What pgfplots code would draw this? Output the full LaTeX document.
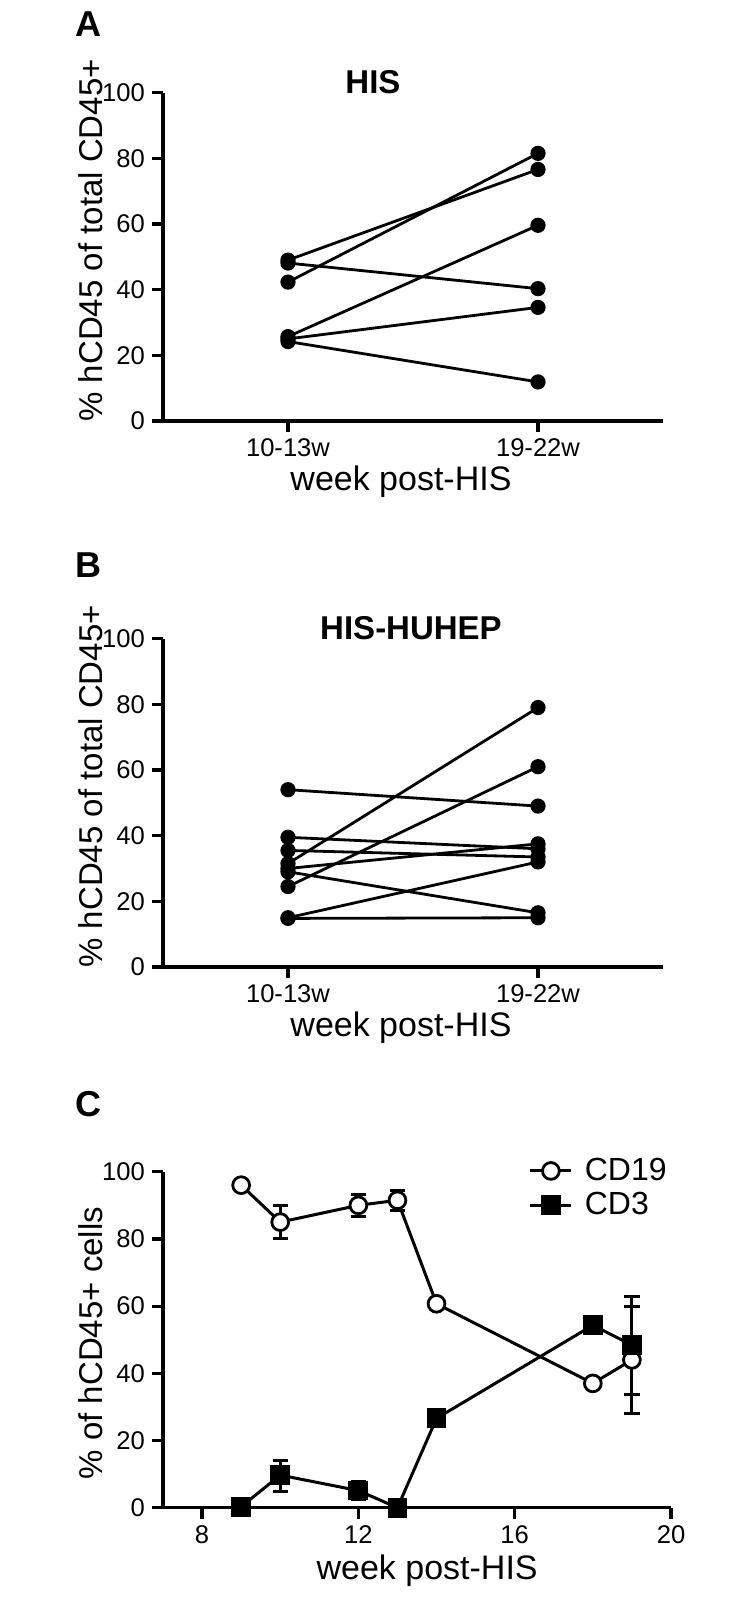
\documentclass[border=0pt]{standalone}
\usepackage{fontspec}
\setmainfont{Liberation Sans}
\usepackage{pgfplots}
\pgfplotsset{compat=1.18}

\pgfplotsset{
  panel/.style={
    scale only axis,
    axis x line*=bottom, axis y line*=left,
    axis line style={line width=1.6pt, -},
    every tick/.style={line width=1.6pt, black},
    tick align=outside,
    major tick length=5.5pt,
    ymin=0, ymax=100, ytick={0,20,...,100},
    tick label style={font=\fontsize{12.8}{15}\selectfont},
    /pgf/number format/assume math mode=true,
    xlabel style={font=\fontsize{17}{20}\selectfont},
    ylabel style={font=\fontsize{16.5}{19}\selectfont},
    clip=false,
  },
  pair/.style={
    panel,
    width=250pt, height=164.2pt,
    xmin=-0.5, xmax=1.5,
    xtick={0,1}, xticklabels={10-13w,19-22w},
    xlabel={week post-HIS},
    xlabel style={at={(rel axis cs:0.476,0)}, anchor=center, yshift=-30.5pt},
    ylabel={\% hCD45 of total CD45+},
    ylabel style={at={(rel axis cs:0,0.55)}, anchor=center, yshift=36pt},
  },
  pt/.style={black, solid, line width=1.4pt, mark=*, mark size=3.1pt, mark options={solid, fill=black}},
}

\begin{document}
\begin{tikzpicture}
\path[use as bounding box] (0pt,0pt) rectangle (377.5pt,-800pt);

\node[font=\fontsize{18}{22}\selectfont\bfseries] at (44pt,-12pt) {A};
\node[font=\fontsize{18}{22}\selectfont\bfseries] at (44pt,-282.5pt) {B};
\node[font=\fontsize{18}{22}\selectfont\bfseries] at (44pt,-552pt) {C};

% Panel A
\begin{axis}[pair, at={(81.5pt,-210.5pt)}, anchor=south west]
\addplot[pt] coordinates {(0,49.0) (1,76.6)};
\addplot[pt] coordinates {(0,42.3) (1,81.5)};
\addplot[pt] coordinates {(0,48.1) (1,40.3)};
\addplot[pt] coordinates {(0,25.7) (1,59.6)};
\addplot[pt] coordinates {(0,25.0) (1,34.6)};
\addplot[pt] coordinates {(0,24.2) (1,11.9)};
\node[font=\fontsize{16.5}{19}\selectfont\bfseries] at (rel axis cs:0.42,1.0) [yshift=5.4pt] {HIS};
\end{axis}

% Panel B
\begin{axis}[pair, at={(81.5pt,-483.5pt)}, anchor=south west]
\addplot[pt] coordinates {(0,54.0) (1,49.0)};
\addplot[pt] coordinates {(0,39.5) (1,36.0)};
\addplot[pt] coordinates {(0,35.5) (1,33.5)};
\addplot[pt] coordinates {(0,31.5) (1,79.0)};
\addplot[pt] coordinates {(0,30.0) (1,37.5)};
\addplot[pt] coordinates {(0,29.0) (1,16.5)};
\addplot[pt] coordinates {(0,24.5) (1,61.0)};
\addplot[pt] coordinates {(0,15.0) (1,32.0)};
\addplot[pt] coordinates {(0,14.8) (1,15.0)};
\node[font=\fontsize{16.5}{19}\selectfont\bfseries] at (rel axis cs:0.496,1.0) [yshift=5pt] {HIS-HUHEP};
\end{axis}

% Panel C
\begin{axis}[panel, at={(81.5pt,-753.85pt)}, anchor=south west, width=254pt, height=168pt,
  xmin=7, xmax=20, xtick={8,12,16,20},
  xlabel={week post-HIS},
  xlabel style={at={(rel axis cs:0.52,0)}, anchor=center, yshift=-31.5pt},
  ylabel={\% of hCD45+ cells},
  ylabel style={at={(rel axis cs:0,0.49)}, anchor=center, yshift=36pt},
  legend style={draw=none, fill=none, at={(rel axis cs:1.012,1.065)}, anchor=north east,
    font=\fontsize{16}{19}\selectfont, row sep=0.5pt,
    /tikz/every odd column/.append style={column sep=4pt}},
  legend cell align=left,
  legend image code/.code={\draw[mark repeat=2,mark phase=2] plot coordinates {(0pt,0pt) (10.25pt,0pt) (20.5pt,0pt)};},
]
\addplot[only marks, mark=none, forget plot, black,
  error bars/.cd, y dir=both, y explicit,
  error bar style={line width=1.5pt, black},
  error mark options={rotate=90, mark size=3.8pt, line width=1.5pt, black}]
  coordinates {(10,85) +- (0,4.9) (12,90) +- (0,3.3) (13,91.5) +- (0,3) (19,44) +- (0,16)};
\addplot[only marks, mark=none, forget plot, black,
  error bars/.cd, y dir=both, y explicit,
  error bar style={line width=1.5pt, black},
  error mark options={rotate=90, mark size=3.8pt, line width=1.5pt, black}]
  coordinates {(10,9.5) +- (0,4.7) (12,5.0) +- (0,2.7) (19,48.4) +- (0,14.6)};
\addplot[black, line width=1.5pt, mark=*, mark size=4.2pt, mark options={fill=white, line width=1.4pt}]
  coordinates {(9,96) (10,85) (12,90) (13,91.5) (14,60.7) (18,37) (19,44)};
\addlegendentry{CD19}
\addplot[black, line width=1.5pt, mark=square*, mark size=4.2pt, mark options={fill=black}]
  coordinates {(9,0.3) (10,9.7) (12,5.1) (13,0) (14,26.6) (18,54.3) (19,48.4)};
\addlegendentry{CD3}
\end{axis}
\end{tikzpicture}
\end{document}
